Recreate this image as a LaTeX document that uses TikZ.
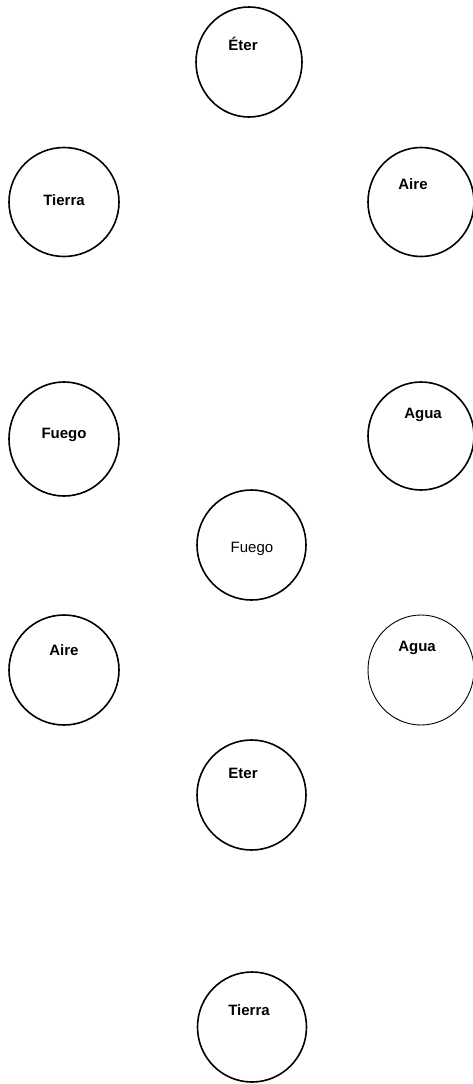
\documentclass[tikz,border=0pt]{standalone}
\usepackage{fontspec}
\setmainfont{Liberation Sans}
\tikzset{
  elem/.style={line width=1.6pt},
  elemthin/.style={line width=0.9pt},
  lbl/.style={font=\fontsize{15}{18}\selectfont\bfseries, inner sep=0pt},
  lblplain/.style={font=\fontsize{15}{18}\selectfont, inner sep=0pt}
}
\begin{document}
\begin{tikzpicture}[x=1pt,y=-1pt]
\useasboundingbox (0,0) rectangle (473,1084);
%top
\draw[elem] (249,62) ellipse (53pt and 55pt);
\path (243,44) node[lbl] (eter1) {Éter};
%first row
\draw[elem] (64,202) ellipse (55pt and 54.5pt);
\path (64,200) node[lbl] (tierra1) {Tierra};
\draw[elem] (421,202) ellipse (53pt and 54.5pt);
\path (413,184) node[lbl] (aire1) {Aire};
%second row
\draw[elem] (64,439) ellipse (55pt and 57pt);
\path (64,435) node[lbl] (fuego1) {Fuego};
\draw[elem] (421,436) ellipse (53pt and 54pt);
\path (423,415) node[lbl] (agua1) {Agua};
%centre
\draw[elem] (251.5,545) ellipse (54.5pt and 55pt);
\path (252,549) node[lblplain] (fuego2) {Fuego};
%third row
\draw[elem] (64,670) ellipse (55pt and 55pt);
\path (64,650) node[lbl] (aire2) {Aire};
\draw[elemthin] (421,670) ellipse (53pt and 55pt);
\path (417,648) node[lbl] (agua2) {Agua};
%bottom
\draw[elem] (251.5,795) ellipse (54.5pt and 55pt);
\path (243,773) node[lbl] (eter2) {Eter};
\draw[elem] (252,1027) ellipse (54.5pt and 55pt);
\path (249,1010) node[lbl] (tierra2) {Tierra};
\end{tikzpicture}
\end{document}
